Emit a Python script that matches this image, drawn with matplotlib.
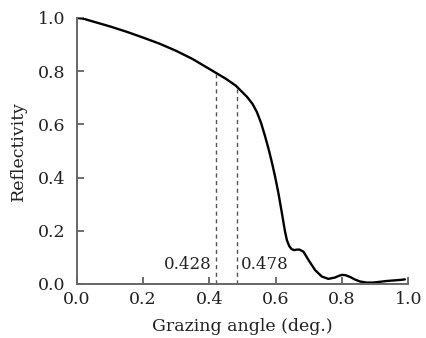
import matplotlib
matplotlib.use("Agg")
import matplotlib.pyplot as plt

angle = [0.0, 0.02, 0.05, 0.10, 0.15, 0.20, 0.25, 0.30, 0.35, 0.40, 0.45, 0.48,
         0.513, 0.53, 0.543, 0.556, 0.568, 0.578, 0.588, 0.598, 0.608, 0.618, 0.628,
         0.634, 0.641, 0.648, 0.656, 0.664, 0.672, 0.684, 0.699, 0.719, 0.739, 0.759,
         0.779, 0.79, 0.80, 0.81, 0.825, 0.84, 0.855, 0.875, 0.894, 0.915, 0.935,
         0.955, 0.976, 0.99]
refl = [1.0, 0.997, 0.986, 0.968, 0.948, 0.926, 0.903, 0.876, 0.845, 0.808, 0.771, 0.745,
        0.704, 0.677, 0.647, 0.605, 0.555, 0.51, 0.46, 0.405, 0.343, 0.272, 0.198,
        0.164, 0.142, 0.131, 0.127, 0.129, 0.129, 0.121, 0.09, 0.052, 0.028, 0.019,
        0.024, 0.030, 0.034, 0.033, 0.026, 0.016, 0.009, 0.005, 0.005, 0.008, 0.011,
        0.013, 0.015, 0.017]

dashed_x = [0.42, 0.484]
dashed_top = [0.793, 0.74]
dashed_labels = ["0.428", "0.478"]

xticks = [0.0, 0.2, 0.4, 0.6, 0.8, 1.0]
yticks = [0.0, 0.2, 0.4, 0.6, 0.8, 1.0]

plt.rcParams['font.family'] = ['DejaVu Serif']
fig = plt.figure(figsize=(4.27, 3.38), dpi=100)
ax = fig.add_axes([0.180, 0.160, 0.776, 0.787])

ax.plot(angle, refl, color='black', lw=1.7, solid_capstyle='round', solid_joinstyle='round')
for xd, yt in zip(dashed_x, dashed_top):
    ax.plot([xd, xd], [0, yt], color='#555555', lw=1.0, ls=(0, (3, 2.5)))
ax.text(dashed_x[0] - 0.012, 0.04, dashed_labels[0], ha='right', va='bottom',
        fontsize=12, color='#222222')
ax.text(dashed_x[1] + 0.012, 0.04, dashed_labels[1], ha='left', va='bottom',
        fontsize=12, color='#222222')

ax.set_xlim(0, 1.0)
ax.set_ylim(0, 1.0)
ax.set_xticks(xticks)
ax.set_yticks(yticks)
ax.set_xticklabels([f"{v:.1f}" for v in xticks])
ax.set_yticklabels([f"{v:.1f}" for v in yticks])
ax.tick_params(direction='in', length=5, width=1.2, color='#555555', labelsize=12.5,
               labelcolor='#222222')
ax.tick_params(axis='y', pad=8)
ax.tick_params(axis='x', pad=5)
for s in ['top', 'right']:
    ax.spines[s].set_visible(False)
for s in ['left', 'bottom']:
    ax.spines[s].set_color('#666666')
    ax.spines[s].set_linewidth(1.4)
ax.set_xlabel("Grazing angle (deg.)", fontsize=12.5, labelpad=7, color='#222222')
ax.set_ylabel("Reflectivity", fontsize=12.5, labelpad=8, color='#222222')

fig.savefig("out.png", dpi=100)
